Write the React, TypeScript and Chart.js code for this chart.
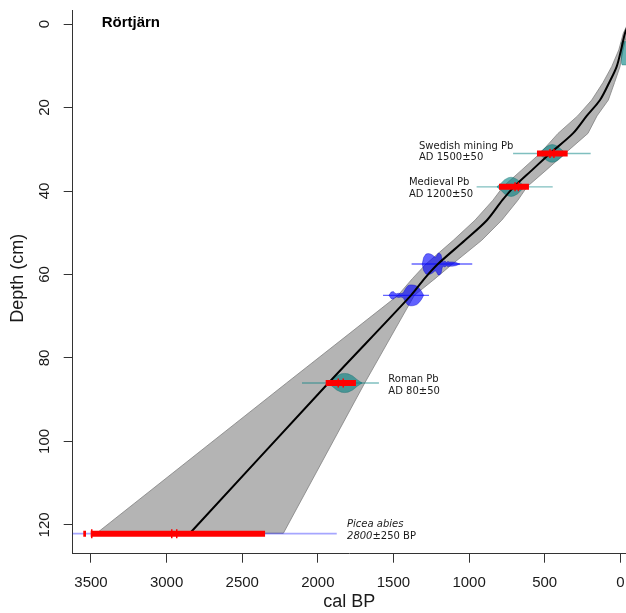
import React, { useEffect, useRef } from "react";
import { Chart, registerables } from "chart.js";
Chart.register(...registerables);

// ---------- axes ----------
const xTicks = [0, 500, 1000, 1500, 2000, 2500, 3000, 3500];
const yTicks = [0, 20, 40, 60, 80, 100, 120];
const xMin = -37.7;
const xMax = 3621;
const yMin = -3.2;
const yMax = 126.9;

// ---------- age-depth model ----------
const depths = [0, 2.2, 6.2, 10.2, 14, 18.2, 22, 26.2, 31, 35, 39, 42.2, 47, 51.8, 57.5, 61, 65, 86, 122];
const medianAge = [-55, -31, -5, 24, 73, 134, 222, 313, 465, 584, 703, 780, 882, 1027, 1206, 1295, 1384, 1930, 2846];
const youngAge = [-62, -44, -18, 2, 38, 79, 154, 214, 366, 490, 617, 677, 784, 916, 1110, 1225, 1362, 1690, 2228];
const oldAge = [-48, -20, 10, 57, 114, 189, 282, 412, 531, 653, 776, 842, 961, 1104, 1285, 1375, 1470, 2207, 3463];

// ---------- dates ----------
// surface
const surfDepth = 7;
const surfBlobAges = [-8, -12, -40, -90];
const surfBlobHalf = [2.4, 2.8, 2.8, 2.8];
// Swedish mining Pb
const swDepth = 31;
const swLine = [709, 196];
const swBlobAges = [545, 525, 505, 485, 465, 450, 435, 415, 395, 375, 355];
const swBlobHalf = [0.05, 0.5, 1.1, 1.7, 2.05, 2.12, 2.05, 1.7, 1.1, 0.5, 0.05];
const swBar = [551, 348];
const swTicks = [465, 439];
// Medieval Pb
const mdDepth = 39;
const mdLine = [950, 447];
const mdBlobAges = [815, 790, 765, 740, 722, 705, 680, 655, 630];
const mdBlobHalf = [0.05, 0.8, 1.7, 2.2, 2.3, 2.2, 1.7, 0.8, 0.05];
const mdBar = [802, 604];
const mdTicks = [696, 674];
// 14C date 1
const c1Depth = 57.5;
const c1Line = [1380, 979];
const c1BlobAges = [1310, 1300, 1285, 1270, 1255, 1240, 1225, 1215, 1205, 1195, 1185, 1178, 1170, 1160, 1150, 1140, 1130, 1110, 1090, 1075, 1060];
const c1BlobHalf = [0, 1.6, 2.4, 2.5, 2.4, 2.1, 1.6, 1.9, 2.6, 2.6, 2.2, 0.9, 0.5, 0.7, 0.4, 0.6, 0.5, 0.5, 0.4, 0.2, 0];
// 14C date 2
const c2Depth = 65;
const c2Line = [1569, 1265];
const c2BlobAges = [1530, 1515, 1500, 1490, 1480, 1465, 1450, 1435, 1420, 1405, 1390, 1375, 1360, 1345, 1330, 1315, 1300];
const c2BlobHalf = [0, 0.8, 0.9, 0.5, 0.4, 0.5, 0.4, 0.6, 1.6, 2.3, 2.5, 2.5, 2.4, 2.2, 1.7, 1.0, 0];
// Roman Pb
const rmDepth = 86;
const rmLine = [2105, 1596];
const rmBlobAges = [1935, 1905, 1875, 1845, 1823, 1800, 1770, 1740, 1710];
const rmBlobHalf = [0.05, 0.8, 1.7, 2.2, 2.3, 2.2, 1.7, 0.8, 0.05];
const rmBar = [1948, 1748];
const rmTicks = [1865, 1832];
// Picea abies
const pcDepth = 122.1;
const pcLine = [3800, 1875];
const pcBar = [3502, 2349];
const pcSmallBar = [3551, 3533];
const pcTicks = [3495, 2966, 2933];

// ---------- labels ----------
const labelLine1 = ["Swedish mining Pb", "Medieval Pb", "Roman Pb", "Picea abies"];
const labelLine1Italic = [false, false, false, true];
const labelLine2Italic = ["", "", "", "2800"];
const labelLine2Rest = ["AD 1500±50", "AD 1200±50", "AD 80±50", "±250 BP"];
const labelAges = [1331, 1398, 1534, 1807];
const labelDepths = [30.6, 39.4, 86.6, 121.3];

const titleText = "Rörtjärn";
const xTitle = "cal BP";
const yTitle = "Depth (cm)";

// ---------- helpers ----------
type P = { x: number; y: number };
const poly = (ages: number[], half: number[], depth: number): P[] => {
  const top = ages.map((a, i) => ({ x: a, y: depth - half[i] }));
  const bot = ages.map((a, i) => ({ x: a, y: depth + half[i] })).reverse();
  return [...top, ...bot, top[0]];
};
const seg = (ages: number[], d: number): P[] => ages.map((a) => ({ x: a, y: d }));
const pts = (ages: number[], d: number): P[] => ages.map((a) => ({ x: a, y: d }));

const TEAL_FILL = "rgba(0,128,128,0.6)";
const TEAL_EDGE = "rgba(0,100,100,0.45)";
const TEAL_LINE = "rgba(0,128,128,0.5)";
const BLUE_FILL = "rgba(0,0,255,0.62)";
const BLUE_EDGE = "rgba(0,0,200,0.5)";
const BLUE_LINE = "rgba(0,0,255,0.6)";
const RED = "#ff0000";

const shapeDs = (data: P[], fill: string, edge: string, order: number) => ({
  data,
  showLine: true,
  fill: "shape",
  backgroundColor: fill,
  borderColor: edge,
  borderWidth: 0.8,
  pointRadius: 0,
  tension: 0,
  order,
});
const lineDs = (data: P[], color: string, width: number, order: number, tension = 0) => ({
  data,
  showLine: true,
  fill: false,
  borderColor: color,
  borderWidth: width,
  borderCapStyle: "butt",
  pointRadius: 0,
  tension,
  order,
});
const tickDs = (data: P[], order: number) => ({
  data,
  showLine: false,
  pointStyle: "line",
  rotation: 90,
  pointRadius: 4.5,
  borderColor: RED,
  backgroundColor: RED,
  pointBorderWidth: 1.5,
  borderWidth: 1.5,
  order,
});

const FONT_AX = '"Liberation Sans", Arial, Helvetica, sans-serif';
const FONT_LB = '"DejaVu Sans", sans-serif';

const textPlugin = {
  id: "texts",
  afterDraw(chart: any) {
    const { ctx, chartArea, scales } = chart;
    const x = scales.x;
    const y = scales.y;
    ctx.save();
    ctx.fillStyle = "#1a1a1a";
    // y tick labels (rotated, R style)
    ctx.font = `15px ${FONT_AX}`;
    ctx.textAlign = "center";
    ctx.textBaseline = "middle";
    for (const t of y.ticks) {
      const py = y.getPixelForValue(t.value);
      ctx.save();
      ctx.translate(chartArea.left - 28, py);
      ctx.rotate(-Math.PI / 2);
      ctx.fillText(String(t.value), 0, 0);
      ctx.restore();
    }
    // axis titles
    ctx.font = `18px ${FONT_AX}`;
    ctx.fillText(xTitle, (chartArea.left + chartArea.right) / 2, 602);
    ctx.save();
    ctx.translate(18, (chartArea.top + chartArea.bottom) / 2 - 4);
    ctx.rotate(-Math.PI / 2);
    ctx.fillText(yTitle, 0, 0);
    ctx.restore();
    // plot title
    ctx.font = `bold 15px ${FONT_AX}`;
    ctx.textAlign = "left";
    ctx.fillStyle = "#000";
    ctx.fillText(titleText, chartArea.left + 29, 23);
    // date labels
    ctx.fillStyle = "#1a1a1a";
    for (let i = 0; i < labelLine1.length; i++) {
      const px = x.getPixelForValue(labelAges[i]);
      const py = y.getPixelForValue(labelDepths[i]);
      ctx.textAlign = "left";
      ctx.font = `${labelLine1Italic[i] ? "italic " : ""}10px ${FONT_LB}`;
      ctx.fillText(labelLine1[i], px, py - 5.7);
      let cx = px;
      if (labelLine2Italic[i]) {
        ctx.font = `italic 10px ${FONT_LB}`;
        ctx.fillText(labelLine2Italic[i], cx, py + 5.7);
        cx += ctx.measureText(labelLine2Italic[i]).width;
      }
      ctx.font = `10px ${FONT_LB}`;
      ctx.fillText(labelLine2Rest[i], cx, py + 5.7);
    }
    ctx.restore();
  },
};

export default function App() {
  const ref = useRef<HTMLCanvasElement>(null);
  useEffect(() => {
    document.body.style.margin = "0";
    const canvas = ref.current!;
    const envelope: P[] = [
      ...oldAge.map((a, i) => ({ x: a, y: depths[i] })),
      ...youngAge.map((a, i) => ({ x: a, y: depths[i] })).reverse(),
    ];
    envelope.push(envelope[0]);
    const median: P[] = medianAge.map((a, i) => ({ x: a, y: depths[i] }));

    const datasets: any[] = [
      shapeDs(envelope, "rgb(180,180,180)", "rgb(130,130,130)", 10),
      // thin date lines
      lineDs(seg(pcLine, pcDepth), "rgba(0,0,255,0.35)", 1.8, 8),
      lineDs(seg(swLine, swDepth), TEAL_LINE, 1.4, 8),
      lineDs(seg(mdLine, mdDepth), TEAL_LINE, 1.4, 8),
      lineDs(seg(rmLine, rmDepth), TEAL_LINE, 1.4, 8),
      lineDs(seg(c1Line, c1Depth), BLUE_LINE, 1.4, 8),
      lineDs(seg(c2Line, c2Depth), BLUE_LINE, 1.4, 8),
      // blobs
      shapeDs(poly(surfBlobAges, surfBlobHalf, surfDepth), TEAL_FILL, TEAL_EDGE, 6),
      shapeDs(poly(swBlobAges, swBlobHalf, swDepth), TEAL_FILL, TEAL_EDGE, 6),
      shapeDs(poly(mdBlobAges, mdBlobHalf, mdDepth), TEAL_FILL, TEAL_EDGE, 6),
      shapeDs(poly(rmBlobAges, rmBlobHalf, rmDepth), TEAL_FILL, TEAL_EDGE, 6),
      shapeDs(poly(c1BlobAges, c1BlobHalf, c1Depth), BLUE_FILL, BLUE_EDGE, 6),
      shapeDs(poly(c2BlobAges, c2BlobHalf, c2Depth), BLUE_FILL, BLUE_EDGE, 6),
      // median line
      lineDs(median, "#000", 2, 4, 0.3),
      // red bars
      lineDs(seg(swBar, swDepth), RED, 6, 2),
      lineDs(seg(mdBar, mdDepth), RED, 6, 2),
      lineDs(seg(rmBar, rmDepth), RED, 6, 2),
      lineDs(seg(pcBar, pcDepth), RED, 6, 2),
      lineDs(seg(pcSmallBar, pcDepth), RED, 6, 2),
      tickDs(pts(swTicks, swDepth), 1),
      tickDs(pts(mdTicks, mdDepth), 1),
      tickDs(pts(rmTicks, rmDepth), 1),
      tickDs(pts(pcTicks, pcDepth), 1),
    ];

    const gridOpts = {
      drawOnChartArea: false,
      drawTicks: true,
      tickLength: 9,
      color: "#333",
      lineWidth: 1,
    };
    const chart = new Chart(canvas, {
      type: "scatter",
      data: { datasets },
      options: {
        responsive: false,
        animation: false,
        devicePixelRatio: 1,
        events: [],
        layout: { autoPadding: false, padding: { top: 10.7, right: 0, left: 0, bottom: 0 } },
        plugins: { legend: { display: false }, tooltip: { enabled: false }, title: { display: false } },
        scales: {
          x: {
            type: "linear",
            reverse: true,
            min: xMin,
            max: xMax,
            afterBuildTicks: (s: any) => {
              s.ticks = xTicks.map((v) => ({ value: v }));
            },
            afterFit: (s: any) => {
              s.height = 59.3;
              s.paddingLeft = 0;
              s.paddingRight = 0;
            },
            grid: gridOpts,
            border: { display: true, color: "#333", width: 1 },
            ticks: {
              color: "#1a1a1a",
              font: { family: FONT_AX, size: 15 },
              padding: 11,
              maxRotation: 0,
              minRotation: 0,
              autoSkip: false,
              callback: (v: any) => String(v),
            },
          },
          y: {
            type: "linear",
            reverse: true,
            min: yMin,
            max: yMax,
            afterBuildTicks: (s: any) => {
              s.ticks = yTicks.map((v) => ({ value: v }));
            },
            afterFit: (s: any) => {
              s.width = 72.7;
              s.paddingTop = 0;
              s.paddingBottom = 0;
            },
            grid: gridOpts,
            border: { display: true, color: "#333", width: 1 },
            ticks: { display: false },
          },
        },
      } as any,
      plugins: [textPlugin],
    });
    return () => chart.destroy();
  }, []);
  return <canvas ref={ref} width={626} height={613} style={{ display: "block" }} />;
}
